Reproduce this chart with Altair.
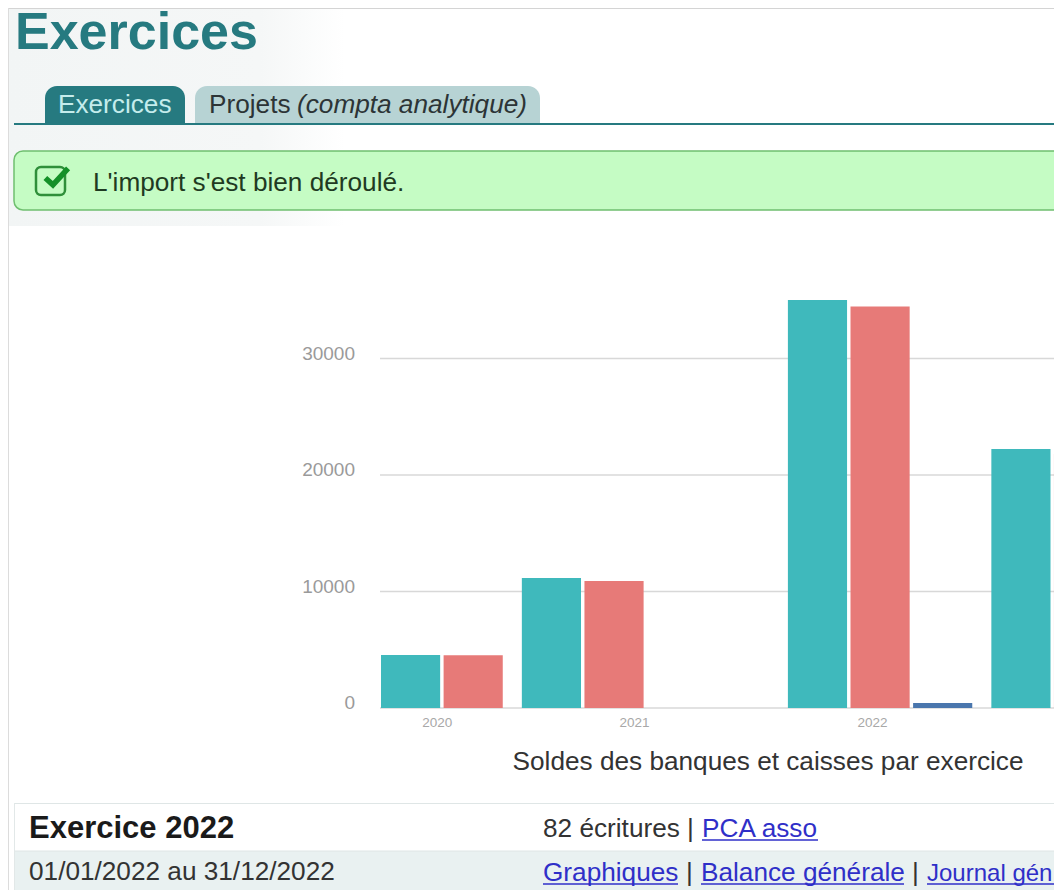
import altair as alt
import pandas as pd

# ---- chart data
years = ["2020", "2021", "2022", "2023"]
slots_per_year = [2, 4, 3, 3]
banque = [4550, 11150, 35020, 22230]
caisse = [4530, 10900, 34460, 21800]
autre = [None, None, 430, None]
y_ticks = [0, 10000, 20000, 30000]
visible_year_labels = ["2020", "2021", "2022"]
chart_title = "Soldes des banques et caisses par exercice"
TEAL, SALMON, BLUE = "#3fb9bc", "#e77a78", "#4a76ad"

# ---- page texts
page_title = "Exercices"
tab_active = "Exercices"
tab_other = "Projets"
tab_other_em = "(compta analytique)"
message = "L'import s'est bien déroulé."
row1_left = "Exercice 2022"
row1_right = "82 écritures |"
row1_link = "PCA asso"
row2_left = "01/01/2022 au 31/12/2022"
row2_links = ["Graphiques", "Balance générale", "Journal gén"]

W, H = 1046, 882
GAP = 0.25
SLOT = 62.6
X0 = 381 - 8

rows, centers, s = [], [], 0.0
for i, (yr, n) in enumerate(zip(years, slots_per_year)):
    if yr in visible_year_labels:
        centers.append({"year": yr, "c": s + 0.45 * n})
    for j, (vals, col) in enumerate([(banque, TEAL), (caisse, SALMON), (autre, BLUE)]):
        if vals[i] is not None:
            rows.append({"x": s + j, "x2": s + j + 0.945, "v": vals[i], "base": 0, "col": col})
    s += n + GAP
bars = pd.DataFrame(rows)
labels = pd.DataFrame(centers)
grid = pd.DataFrame({"v": y_ticks})

xs = alt.Scale(domain=[0, 10], range=[X0, X0 + 10 * SLOT])
ys = alt.Scale(domain=[0, 40000], range=[700, 700 - 4 * 116.5], nice=False)
dummy = pd.DataFrame({"a": [0]})


def rect(x, x2, y, y2, **kw):
    return alt.Chart(dummy).mark_rect(**kw).encode(
        x=alt.value(x - 8), x2=alt.value(x2 - 8), y=alt.value(y - 8), y2=alt.value(y2 - 8))


def txt(t, x, y, size, color, **kw):
    return alt.Chart(pd.DataFrame({"t": [t]})).mark_text(
        fontSize=size, color=color, align=kw.pop("align", "left"), baseline="alphabetic",
        font=kw.pop("font", "Liberation Sans"), **kw
    ).encode(x=alt.value(x - 8), y=alt.value(y - 8), text="t:N")


def line(x, x2, y, color, w=1.0):
    return alt.Chart(dummy).mark_rule(color=color, strokeWidth=w).encode(
        x=alt.value(x - 8), x2=alt.value(x2 - 8), y=alt.value(y - 8))


LINK = "#2f2fc8"
BODY = 26.2
wash = alt.Gradient(gradient="linear", x1=0, x2=1, y1=0, y2=0,
                    stops=[alt.GradientStop(offset=0, color="#f2f5f5"),
                           alt.GradientStop(offset=0.75, color="#f5f7f7"),
                           alt.GradientStop(offset=1, color="#ffffff")])
layers = [
    # faint watermark + frame
    rect(8, 345, 8, 226, fill=wash),
    rect(8, 1062, 8, 9, fill="#d4d4d4"),
    rect(8, 9, 8, 890, fill="#dcdcdc"),
    # header
    txt(page_title, 15, 49, 52, "#267a80", fontWeight="bold"),
    rect(45, 185, 86, 124, fill="#267a80", cornerRadiusTopLeft=12, cornerRadiusTopRight=12),
    rect(195, 540, 86, 124, fill="#b7d3d4", cornerRadiusTopLeft=12, cornerRadiusTopRight=12),
    rect(14, 1062, 123, 125, fill="#267a80"),
    txt(tab_active, 58, 113, BODY, "#c4ecec"),
    txt(tab_other, 209, 113, BODY, "#2c3436"),
    txt(tab_other_em, 297, 113, BODY, "#2c3436", fontStyle="italic"),
    # message
    rect(14, 1075, 151, 210, fill="#c5fcc4", stroke="#6fbf6f", strokeWidth=1.5, cornerRadius=9),
    rect(36, 65, 167, 195, fill="#c5fcc4", stroke="#2f8f3a", strokeWidth=2.5, cornerRadius=5),
    alt.Chart(dummy).mark_point(shape="M-0.7,0.0 L-0.15,0.5 L0.95,-0.7", filled=False, size=760,
                                stroke="#149028", strokeWidth=5.5, opacity=1).encode(
        x=alt.value(55 - 8), y=alt.value(178 - 8)),
    txt(message, 93, 191, BODY, "#1f3a22"),
    # chart
    alt.Chart(grid).mark_rule(color="#d8d8d8", strokeWidth=1.3).encode(
        x=alt.value(X0 - 1), x2=alt.value(W), y=alt.Y("v:Q", scale=ys, axis=None)),
    alt.Chart(bars).mark_rect().encode(
        x=alt.X("x:Q", scale=xs, axis=None), x2="x2:Q",
        y=alt.Y("v:Q", scale=ys, axis=None), y2="base:Q",
        fill=alt.Fill("col:N", scale=None)),
    alt.Chart(grid).mark_text(align="right", baseline="middle", dy=-5, fontSize=19,
                              color="#9a9a9a", font="Liberation Sans").encode(
        x=alt.value(355 - 8), y=alt.Y("v:Q", scale=ys, axis=None), text="v:N"),
    alt.Chart(labels).mark_text(baseline="alphabetic", fontSize=13.5, color="#a8a8a8",
                                font="Liberation Sans").encode(
        x=alt.X("c:Q", scale=xs, axis=None), y=alt.value(727 - 8), text="year:N"),
    txt(chart_title, 768, 770, BODY, "#333333", align="center"),
    # table
    rect(14, 1062, 851, 890, fill="#e9f1f1"),
    line(14, 1062, 803.5, "#dfe6e6"),
    line(14, 1062, 851, "#dfe6e6"),
    rect(14, 15, 803, 890, fill="#e2e8e8"),
    txt(row1_left, 29, 838, 31, "#1a1a1a", fontWeight="bold"),
    txt(row1_right, 543, 837, BODY, "#333333"),
    txt(row1_link, 702, 837, BODY, LINK),
    line(702, 818, 840, LINK, 1.5),
    txt(row2_left, 29, 880, BODY, "#333333"),
    txt(row2_links[0], 543, 881, BODY, LINK),
    line(543, 678, 884, LINK, 1.5),
    txt("|", 686, 881, BODY, "#333333"),
    txt(row2_links[1], 701, 881, BODY, LINK),
    line(701, 904, 884, LINK, 1.5),
    txt("|", 912, 881, BODY, "#333333"),
    txt(row2_links[2], 927, 881, 24, LINK),
    line(927, 1062, 884, LINK, 1.5),
]

chart = alt.layer(*layers).resolve_scale(x="shared", y="shared").properties(
    width=W, height=H, padding=0, autosize=alt.AutoSizeParams(type="none", contains="content")
).configure_view(stroke=None)

chart.save("out.html", embed_options={"renderer": "svg", "actions": False})
